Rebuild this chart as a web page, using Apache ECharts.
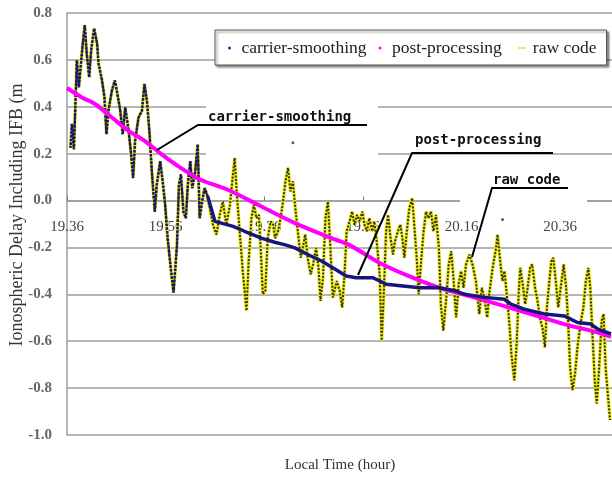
<!DOCTYPE html>
<html>
<head>
<meta charset="utf-8">
<script src="https://cdn.jsdelivr.net/npm/echarts@6/dist/echarts.min.js"></script>
<style>
html,body{margin:0;padding:0;background:#fff;}
#chart{width:612px;height:481px;}
</style>
</head>
<body>
<div id="chart"></div>
<script>
// ---- data (time in decimal hours, delay in metres) ----
const xTicks = [19.36, 19.56, 19.76, 19.96, 20.16, 20.36];
const yTicks = [-1.0, -0.8, -0.6, -0.4, -0.2, 0.0, 0.2, 0.4, 0.6, 0.8];

const rawCode = [
[19.367,0.225],[19.370,0.327],[19.374,0.219],[19.380,0.598],[19.384,0.483],[19.392,0.670],[19.396,0.748],[19.400,0.627],[19.405,0.526],[19.409,0.641],
[19.415,0.734],[19.421,0.670],[19.424,0.584],[19.431,0.512],[19.436,0.440],[19.440,0.283],[19.444,0.383],[19.451,0.469],[19.457,0.512],[19.461,0.469],
[19.468,0.383],[19.473,0.283],[19.478,0.397],[19.485,0.297],[19.490,0.197],[19.494,0.096],[19.498,0.254],[19.505,0.354],[19.512,0.383],[19.517,0.498],
[19.522,0.426],[19.527,0.297],[19.532,0.125],[19.538,-0.047],[19.542,0.068],[19.549,0.168],[19.554,0.082],[19.559,-0.018],[19.564,-0.160],[19.571,-0.301],
[19.576,-0.393],[19.583,-0.188],[19.587,0.068],[19.591,0.111],[19.596,-0.047],[19.601,-0.075],[19.605,0.068],[19.610,0.168],[19.614,0.053],[19.620,0.125],
[19.625,0.240],[19.629,-0.075],[19.634,-0.004],[19.639,0.053],
[19.645,0.017],[19.656,-0.103],[19.663,-0.145],[19.670,-0.059],[19.676,-0.004],[19.683,-0.103],[19.690,-0.025],[19.700,0.182],[19.704,0.039],[19.710,-0.131],
[19.717,-0.315],[19.724,-0.470],[19.728,-0.271],[19.734,-0.075],[19.739,-0.018],[19.744,-0.075],[19.749,-0.061],[19.753,-0.216],[19.757,-0.400],[19.762,-0.386],
[19.767,-0.160],[19.773,-0.089],[19.778,-0.103],[19.782,-0.160],[19.788,-0.131],[19.793,-0.075],[19.798,-0.004],[19.803,0.082],[19.808,0.139],[19.813,0.039],
[19.818,0.082],[19.823,-0.033],[19.828,-0.131],[19.834,-0.244],[19.838,-0.202],[19.843,-0.145],[19.848,-0.244],[19.854,-0.315],[19.859,-0.272],[19.865,-0.202],
[19.870,-0.287],[19.874,-0.428],[19.879,-0.329],[19.884,-0.075],[19.889,-0.004],[19.894,-0.202],[19.899,-0.414],[19.907,-0.343],[19.913,-0.386],[19.918,-0.456],
[19.923,-0.301],[19.927,-0.131],[19.933,-0.089],[19.938,-0.047],[19.943,-0.103],[19.948,-0.061],[19.953,-0.089],[19.959,-0.047],[19.963,-0.103],[19.968,-0.131],
[19.973,-0.075],[19.979,-0.131],[19.983,-0.089],[19.988,-0.174],[19.994,-0.315],[19.998,-0.597],[20.002,-0.414],[20.007,-0.131],[20.011,-0.061],[20.016,-0.160],
[20.021,-0.230],[20.025,-0.174],[20.031,-0.131],[20.036,-0.103],[20.040,-0.160],[20.044,-0.244],[20.049,-0.131],[20.054,-0.033],[20.060,0.010],[20.064,-0.103],
[20.069,-0.244],[20.073,-0.400],[20.078,-0.258],[20.083,-0.131],[20.088,-0.047],[20.093,-0.075],[20.098,-0.047],[20.103,-0.131],[20.108,-0.061],[20.114,-0.202],
[20.118,-0.442],[20.123,-0.555],[20.129,-0.414],[20.134,-0.272],[20.139,-0.216],[20.143,-0.315],[20.149,-0.499],[20.154,-0.357],[20.159,-0.301],[20.164,-0.372],
[20.169,-0.272],[20.176,-0.230],[20.182,-0.272],[20.189,-0.343],[20.196,-0.484],[20.201,-0.372],[20.206,-0.414],[20.212,-0.499],[20.216,-0.400],[20.223,-0.287],
[20.230,-0.202],[20.233,-0.145],[20.239,-0.272],[20.243,-0.343],[20.247,-0.301],[20.251,-0.386],[20.257,-0.527],[20.261,-0.654],[20.267,-0.767],[20.272,-0.597],
[20.276,-0.386],[20.279,-0.287],[20.284,-0.357],[20.289,-0.442],[20.294,-0.372],[20.299,-0.287],[20.303,-0.272],[20.309,-0.372],[20.314,-0.428],[20.320,-0.513],
[20.324,-0.541],[20.329,-0.626],[20.333,-0.456],[20.338,-0.343],[20.342,-0.258],[20.346,-0.244],[20.351,-0.343],[20.356,-0.456],[20.361,-0.372],[20.367,-0.272],
[20.372,-0.372],[20.376,-0.513],[20.380,-0.711],[20.385,-0.809],[20.390,-0.739],[20.395,-0.626],[20.402,-0.513],[20.407,-0.456],[20.412,-0.343],[20.417,-0.287],
[20.421,-0.372],[20.425,-0.555],[20.430,-0.767],[20.434,-0.866],[20.439,-0.711],[20.444,-0.513],[20.448,-0.484],[20.452,-0.711],[20.457,-0.838],[20.461,-0.936]
];
const rawOutliers = [[19.818,0.247],[20.243,-0.081]];

// carrier-smoothing equals the raw code until it converges (first 54 epochs), then:
const carrierConvergeCount = 54;
const carrierSmooth = [
[19.645,0.020],[19.660,-0.089],[19.697,-0.110],[19.720,-0.131],[19.754,-0.160],[19.781,-0.178],[19.801,-0.188],[19.822,-0.202],
[19.848,-0.230],[19.876,-0.258],[19.903,-0.292],[19.926,-0.322],[19.946,-0.329],[19.980,-0.329],[19.994,-0.343],[20.007,-0.357],
[20.041,-0.364],[20.075,-0.372],[20.115,-0.372],[20.149,-0.386],[20.166,-0.400],[20.206,-0.413],[20.247,-0.421],[20.260,-0.442],
[20.287,-0.463],[20.328,-0.484],[20.368,-0.492],[20.395,-0.520],[20.422,-0.527],[20.436,-0.548],[20.463,-0.569]
];

const postProcessing = [
[19.360,0.480],[19.390,0.440],[19.417,0.412],[19.451,0.354],[19.485,0.297],[19.518,0.254],[19.552,0.197],[19.586,0.146],
[19.630,0.090],[19.687,0.045],[19.754,-0.025],[19.822,-0.096],[19.896,-0.160],[19.933,-0.190],[19.994,-0.266],[20.061,-0.329],
[20.115,-0.372],[20.176,-0.407],[20.233,-0.442],[20.301,-0.484],[20.368,-0.527],[20.422,-0.555],[20.463,-0.581]
];

const seriesNames = ['carrier-smoothing', 'post-processing', 'raw code'];
const annotations = ['carrier-smoothing', 'post-processing', 'raw code'];
const xTitle = 'Local Time (hour)';
const yTitle = 'Ionospheric Delay Including IFB (m';

// ---- chart ----
const W = 612, H = 481, gridTop = 13, gridBottom = 46;
const yMin = yTicks[0], yMax = yTicks[yTicks.length - 1];
const plotH = H - gridTop - gridBottom;
const zeroOffset = -plotH * (0 - yMin) / (yMax - yMin);   // move the time axis up to y = 0

const carrierEarly = rawCode.slice(0, carrierConvergeCount).concat([carrierSmooth[0]]);
const chart = echarts.init(document.getElementById('chart'), null, {renderer: 'canvas'});
const serif = '"Liberation Serif", "Times New Roman", serif';
const gridGray = '#9c9c9c';

const option = {
  animation: false,
  backgroundColor: '#fff',
  grid: {left: 67, right: 0, top: gridTop, bottom: gridBottom, containLabel: false, outerBoundsMode: 'none'},
  legend: {
    left: 215, top: 30, width: 460, orient: 'horizontal',
    padding: [9, 10, 8, 13],
    itemWidth: 14, itemHeight: 3, itemGap: 12,
    backgroundColor: '#fff', borderColor: '#555', borderWidth: 1,
    shadowColor: 'rgba(0,0,0,0.45)', shadowBlur: 2, shadowOffsetX: 2, shadowOffsetY: 2,
    textStyle: {fontFamily: serif, fontSize: 17.5, color: '#222'},
    selectedMode: false,
    data: [
      {name: seriesNames[0], icon: 'circle', itemStyle: {color: '#2020c8'}},
      {name: seriesNames[1], icon: 'circle', itemStyle: {color: '#ff00ff'}},
      {name: seriesNames[2], icon: 'path://M0,0M14,3M4,0.8L12,0.8L12,2.2L4,2.2Z', itemStyle: {color: '#e0e040'}}
    ]
  },
  xAxis: {
    type: 'value', min: xTicks[0], max: 20.465, interval: 0.2,
    offset: zeroOffset,
    axisLine: {onZero: false, lineStyle: {color: gridGray, width: 1.5}},
    axisTick: {show: true, inside: true, length: 4, lineStyle: {color: '#777'}},
    splitLine: {show: false},
    axisLabel: {
      margin: 19, fontFamily: serif, fontSize: 15, color: '#444', showMaxLabel: false,
      formatter: function (v) {
        for (const t of xTicks) { if (Math.abs(v - t) < 1e-6) return t.toFixed(2); }
        return '';
      }
    }
  },
  yAxis: {
    type: 'value', min: yMin, max: yMax, interval: 0.2,
    name: yTitle, nameLocation: 'middle', nameGap: 41, nameMoveOverlap: false,
    nameTextStyle: {fontFamily: serif, fontSize: 18, color: '#333', padding: [0, 0, 0, 18]},
    axisLine: {show: true, lineStyle: {color: gridGray, width: 1.5}},
    axisTick: {show: false},
    splitLine: {show: true, lineStyle: {color: gridGray, width: 1.5}},
    axisLabel: {
      margin: 15, fontFamily: serif, fontSize: 15, fontWeight: 'bold', color: '#666',
      formatter: function (v) { return Math.abs(v) < 1e-9 ? '0.0' : v.toFixed(1); }
    }
  },
  series: [
    {name: seriesNames[2], type: 'line', data: rawCode, showSymbol: false, symbol: 'none',
     color: '#e0e040', lineStyle: {color: '#f0ec10', width: 3.5}, z: 2},
    {name: seriesNames[2], type: 'line', data: rawCode, showSymbol: false, symbol: 'none',
     color: '#e0e040', lineStyle: {color: '#33331a', width: 2, type: [2, 1.5]}, z: 3},
    {name: seriesNames[2], type: 'scatter', data: rawOutliers, symbolSize: 3,
     color: '#e0e040', itemStyle: {color: '#333'}, z: 3},
    {name: seriesNames[0], type: 'line', data: carrierEarly, showSymbol: false, symbol: 'none',
     color: '#2020c8', lineStyle: {color: '#14147e', width: 2.4, type: [2.5, 1.3], dashOffset: 1}, z: 4},
    {name: seriesNames[1], type: 'line', data: postProcessing, showSymbol: false, symbol: 'none',
     smooth: 0.3, color: '#ff00ff', lineStyle: {color: '#ff00ff', width: 4}, z: 5},
    {name: seriesNames[0], type: 'line', data: carrierSmooth, showSymbol: false, symbol: 'none',
     color: '#2020c8', lineStyle: {color: '#16167e', width: 3.5}, z: 6}
  ],
  graphic: [
    {type: 'rect', z: 1, shape: {x: 206, y: 97, width: 172, height: 60}, style: {fill: '#fff'}},
    {type: 'rect', z: 1, shape: {x: 460, y: 167, width: 127, height: 38}, style: {fill: '#fff'}},
    {type: 'polyline', z: 20, shape: {points: [[367,125],[198,125],[157,150]]}, style: {stroke: '#000', lineWidth: 2, fill: null}},
    {type: 'polyline', z: 20, shape: {points: [[553,153],[412,153],[358,275]]}, style: {stroke: '#000', lineWidth: 2, fill: null}},
    {type: 'polyline', z: 20, shape: {points: [[568,188],[492,188],[472,257]]}, style: {stroke: '#000', lineWidth: 2, fill: null}},
    {type: 'text', z: 20, x: 208, y: 117, style: {text: annotations[0], font: 'bold 14px "DejaVu Sans Mono"', fill: '#111', verticalAlign: 'middle'}},
    {type: 'text', z: 20, x: 415, y: 140, style: {text: annotations[1], font: 'bold 14px "DejaVu Sans Mono"', fill: '#111', verticalAlign: 'middle'}},
    {type: 'text', z: 20, x: 493, y: 180, style: {text: annotations[2], font: 'bold 14px "DejaVu Sans Mono"', fill: '#111', verticalAlign: 'middle'}},
    {type: 'text', z: 20, x: 340, y: 465, style: {text: xTitle, font: '15px "Liberation Serif"', fill: '#333', align: 'center', verticalAlign: 'middle'}}
  ]
};
chart.setOption(option);
</script>
</body>
</html>
